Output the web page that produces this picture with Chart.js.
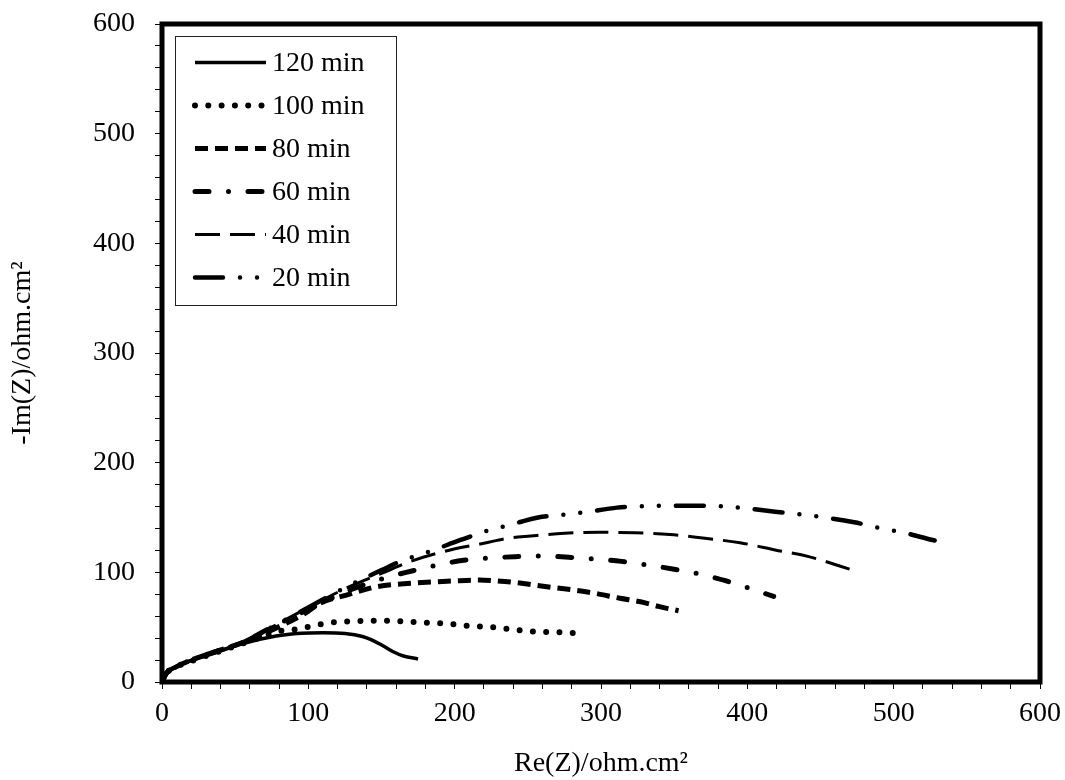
<!DOCTYPE html>
<html>
<head>
<meta charset="utf-8">
<script src="https://cdn.jsdelivr.net/npm/chart.js@4.4.1/dist/chart.umd.min.js"></script>
<style>
html,body{margin:0;padding:0;background:#fff;}
</style>
</head>
<body>
<canvas id="myChart" width="1065" height="780"></canvas>
<script>
// series labels, in legend order
const seriesNames = ['120 min', '100 min', '80 min', '60 min', '40 min', '20 min'];

// Re(Z) / -Im(Z)
const re120 = [0, 3, 10, 21, 35, 56, 78, 95, 110, 125, 137, 144, 151, 158, 165, 175];
const im120 = [0, 8, 14, 20, 26, 35.3, 42, 44.5, 45, 44.3, 41.5, 38, 33, 27.6, 23.7, 21];

const re100 = [0, 3, 10, 20, 35, 55, 70, 78, 88, 97, 106, 115, 125, 134, 143, 152, 161, 171, 181, 190, 199, 208, 218, 228, 237, 246, 255, 265, 274, 284];
const im100 = [0, 8, 14, 19, 26, 35, 42, 46, 47.4, 49.5, 52, 54.1, 55, 55.6, 55.9, 55.9, 55.6, 54.7, 54.1, 53.5, 52.6, 51.4, 50.5, 49.8, 48.3, 47, 46, 45.5, 45.2, 44.3];

const re80 = [0, 3, 10, 20, 35, 55, 76, 97, 108, 126, 147, 170, 199, 217, 226, 242, 263, 281, 296, 313, 327, 340, 353];
const im80 = [0, 8, 14, 20, 27, 36, 48, 62, 71.8, 79.3, 86.9, 90, 92.1, 93, 92.4, 90.6, 86.9, 83.9, 80.9, 76.3, 73.2, 68.7, 65];

const re60 = [0, 3, 10, 20, 35, 55, 75, 100, 125, 150, 170, 188, 206, 224, 241, 260, 278, 296, 314, 332, 350, 368, 385, 403, 418];
const im60 = [0, 8, 14, 20, 27, 36, 50, 66, 82, 94, 101, 106.5, 111, 113, 114.3, 114.9, 113.7, 112.2, 110, 106.7, 102.8, 98.2, 92.4, 84.8, 78];

const re40 = [0, 3, 10, 20, 35, 55, 75, 100, 125, 150, 170, 197, 220, 236, 252, 275, 299, 323, 347, 371, 395, 419, 442, 472];
const im40 = [0, 8, 14, 20, 27, 36, 50, 68, 85, 99, 110, 120.4, 126.5, 131, 133.1, 135.6, 136.5, 136.1, 134.6, 131, 127, 120.4, 114.3, 102];

const re20 = [0, 3, 10, 20, 35, 55, 75, 100, 125, 150, 163, 185, 204, 225, 237, 257, 278, 290, 311, 332, 344, 365, 387, 398, 419, 440, 452, 473, 494, 506, 528];
const im20 = [0, 8, 14, 20, 27, 36, 50, 68, 86, 102, 110, 120, 129.5, 139, 143, 150, 153, 155, 159, 160.5, 160.8, 160.8, 160, 158.5, 155.3, 152.3, 150.2, 145.6, 139.5, 136.5, 129];

// axis ranges and labelled ticks
const xMin = 0, xMax = 600, yMin = 0, yMax = 600;
const minorStep = 20, labelStep = 100;

const serif = '"Liberation Serif", "Times New Roman", serif';

function pts(xs, ys) {
  return xs.map((x, i) => ({x: x, y: ys[i]}));
}

// line styles per series (same order as seriesNames)
const styles = [
  {w: 3.5, dash: [], cap: 'butt'},
  {w: 6, dash: [0, 13.3], cap: 'round'},
  {w: 5, dash: [13, 7], cap: 'butt'},
  {w: 5, dash: [14, 19.5, 0, 19.5], cap: 'round'},
  {w: 3, dash: [25, 10], cap: 'butt'},
  {w: 4.5, dash: [28, 17, 0, 17, 0, 17], cap: 'round'}
];
const allX = [re120, re100, re80, re60, re40, re20];
const allY = [im120, im100, im80, im60, im40, im20];

const datasets = seriesNames.map((name, i) => ({
  label: name,
  data: pts(allX[i], allY[i]),
  borderColor: '#000',
  borderWidth: styles[i].w,
  borderDash: styles[i].dash,
  borderCapStyle: styles[i].cap,
  borderJoinStyle: 'round',
  pointRadius: 0,
  fill: false,
  cubicInterpolationMode: 'monotone'
}));

// thick frame round the plot area
const frame = {
  id: 'frame',
  afterDatasetsDraw(chart) {
    const a = chart.chartArea, ctx = chart.ctx;
    ctx.save();
    ctx.setLineDash([]);
    ctx.strokeStyle = '#000';
    ctx.lineWidth = 5;
    ctx.strokeRect(a.left, a.top, a.right - a.left, a.bottom - a.top);
    ctx.restore();
  }
};

// boxed legend inside the plot, top left
const boxLegend = {
  id: 'boxLegend',
  afterDraw(chart) {
    const ctx = chart.ctx;
    ctx.save();
    ctx.fillStyle = '#fff';
    ctx.fillRect(175.5, 36.5, 221, 269);
    ctx.strokeStyle = '#222';
    ctx.lineWidth = 1;
    ctx.strokeRect(175.5, 36.5, 221, 269);
    ctx.font = '28px ' + serif;
    ctx.textBaseline = 'middle';
    ctx.fillStyle = '#000';
    chart.data.datasets.forEach((ds, i) => {
      const y = 62.5 + i * 43;
      ctx.beginPath();
      ctx.strokeStyle = '#000';
      ctx.lineWidth = ds.borderWidth;
      ctx.lineCap = ds.borderCapStyle;
      ctx.setLineDash(ds.borderDash);
      ctx.moveTo(195, y);
      ctx.lineTo(266, y);
      ctx.stroke();
      ctx.setLineDash([]);
      ctx.fillText(ds.label, 272, y + 1);
    });
    ctx.restore();
  }
};

const tickLabel = v => (v % labelStep === 0 ? v : '');

var ctx = document.getElementById('myChart').getContext('2d');
var chart = new Chart(ctx, {
  type: 'line',
  data: {datasets: datasets},
  plugins: [frame, boxLegend],
  options: {
    responsive: false,
    animation: false,
    layout: {padding: {top: 24, right: 25, left: 0, bottom: 0}},
    plugins: {
      legend: {display: false},
      tooltip: {enabled: false}
    },
    scales: {
      x: {
        type: 'linear',
        min: xMin, max: xMax,
        afterFit: s => { s.height = 98; s.paddingLeft = 0; s.paddingRight = 0; },
        border: {display: false},
        grid: {drawOnChartArea: false, drawTicks: true, tickLength: 7, color: '#000', lineWidth: 1},
        ticks: {stepSize: minorStep, autoSkip: false, maxRotation: 0, padding: 8, color: '#000',
                font: {family: serif, size: 28}, callback: tickLabel},
        title: {display: true, text: 'Re(Z)/ohm.cm²', color: '#000', padding: 0,
                font: {family: serif, size: 28}}
      },
      y: {
        min: yMin, max: yMax,
        afterFit: s => { s.width = 162; s.paddingTop = 0; s.paddingBottom = 0; },
        border: {display: false},
        grid: {drawOnChartArea: false, drawTicks: true, tickLength: 7, color: '#000', lineWidth: 1},
        ticks: {stepSize: minorStep, autoSkip: false, padding: 20, color: '#000',
                font: {family: serif, size: 28}, callback: tickLabel},
        title: {display: true, text: '-Im(Z)/ohm.cm²', color: '#000', padding: 6,
                font: {family: serif, size: 28}}
      }
    }
  }
});
</script>
</body>
</html>
